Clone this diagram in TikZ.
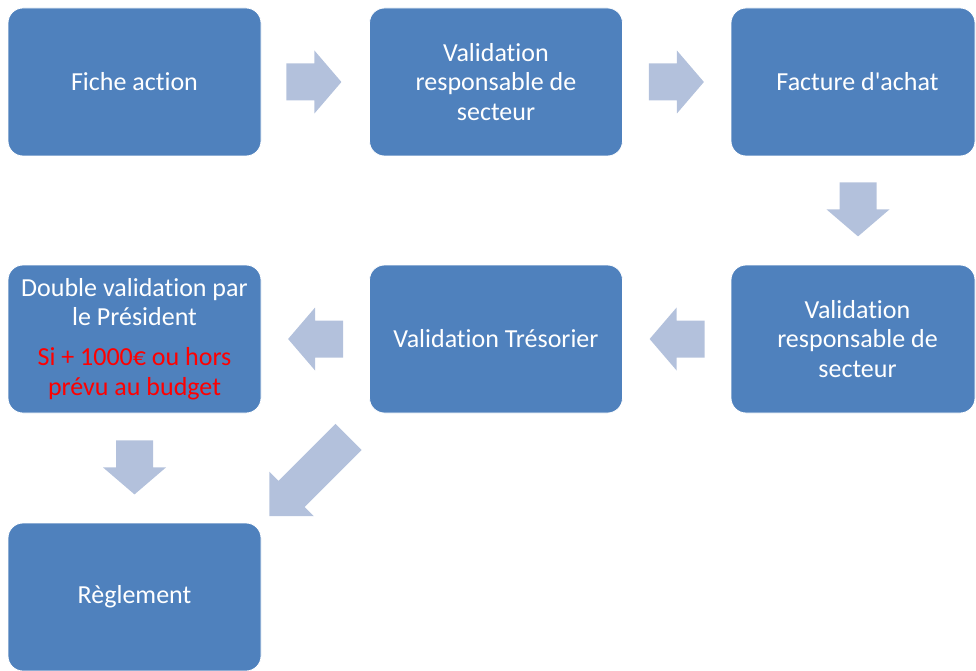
\documentclass[tikz,border=0pt]{standalone}
\usepackage{fontspec}
\setmainfont[Ligatures={NoCommon}]{Carlito}
\usetikzlibrary{calc}
\definecolor{boxblue}{HTML}{4F81BD}
\definecolor{arrowblue}{HTML}{B3C1DC}
\definecolor{txtred}{HTML}{FF0000}
\tikzset{
  box/.style={rectangle, rounded corners=15pt, fill=boxblue, draw=white, line width=0.8pt,
    minimum width=253pt, minimum height=148pt, inner sep=0pt, text=white, align=center,
    font=\fontsize{26}{29.5}\selectfont},
  pics/barrow/.style args={#1/#2/#3}{code={
    \fill[arrowblue] (0,-18.5) -- ({#1-#2},-18.5) -- ({#1-#2},-#3) -- (#1,0)
      -- ({#1-#2},#3) -- ({#1-#2},18.5) -- (0,18.5) -- cycle;}}
}
\begin{document}
\begin{tikzpicture}[x=1pt,y=-1pt]
\useasboundingbox (0,0) rectangle (976,671);
% boxes
\node[box] (n1) at (134.5,82) {Fiche action};
\node[box] (n2) at (496,82) {Validation\\responsable de\\secteur};
\node[box, minimum width=244pt] (n3) at (853,82) {\hspace*{9pt}Facture d\textquotesingle achat};
\node[box, minimum width=244pt] (n4) at (853,339) {\hspace*{9pt}Validation\\\hspace*{9pt}responsable de\\\hspace*{9pt}secteur};
\node[box] (n5) at (496,339) {Validation Trésorier};
\node[box] (n6) at (134.5,339) {Double validation par\\le Président\\[10.5pt]\textcolor{txtred}{Si + 1000€ ou hors}\\\textcolor{txtred}{prévu au budget}};
\node[box] (n7) at (134.5,597) {Règlement};
% block arrows
\pic at ($(n1.east)+(25,0)$) {barrow=55/27/31.5};
\pic at ($(n2.east)+(26,0)$) {barrow=55/27/31.5};
\pic[rotate=-90] at ($(n3.south)+(5,26)$) {barrow=54/27/31.5};
\pic[rotate=180] at ($(n4.west)+(-26,0)$) {barrow=55/27/31.5};
\pic[rotate=180] at ($(n5.west)+(-26,0)$) {barrow=55/27/31.5};
\pic[rotate=-90] at ($(n6.south)+(0,27)$) {barrow=54/27/31.5};
\pic[rotate=-135] at (348.5,437) {barrow=112/31.5/31.5};
\end{tikzpicture}
\end{document}
